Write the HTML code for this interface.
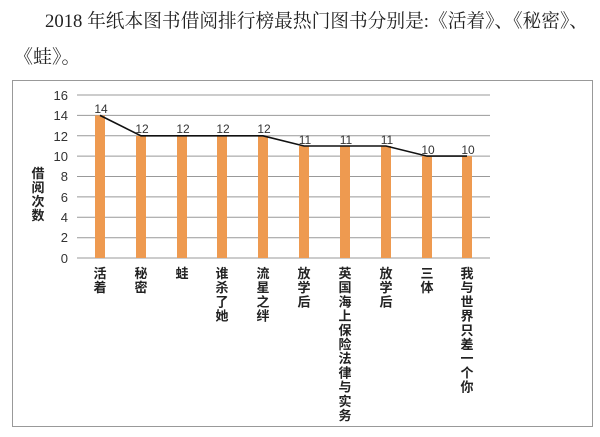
<!DOCTYPE html>
<html><head><meta charset="utf-8"><style>
body{margin:0;background:#fff;width:600px;height:432px;overflow:hidden}
</style></head><body>
<svg width="600" height="432" xmlns="http://www.w3.org/2000/svg">
<text x="45" y="27" font-family="Liberation Serif, Noto Serif CJK SC, serif" font-size="19" fill="#222" textLength="543" lengthAdjust="spacingAndGlyphs">2018 年纸本图书借阅排行榜最热门图书分别是:《活着》、《秘密》、</text>
<text x="14" y="63" font-family="Liberation Serif, Noto Serif CJK SC, serif" font-size="19" fill="#222">《蛙》。</text>
<rect x="12.5" y="80.5" width="580" height="346" fill="#fff" stroke="#999" stroke-width="1"/>
<g stroke="#999" stroke-width="1">
<line x1="77" y1="95" x2="490" y2="95"/><line x1="77" y1="115.4" x2="490" y2="115.4"/>
<line x1="77" y1="135.8" x2="490" y2="135.8"/><line x1="77" y1="156.1" x2="490" y2="156.1"/>
<line x1="77" y1="176.5" x2="490" y2="176.5"/><line x1="77" y1="196.9" x2="490" y2="196.9"/>
<line x1="77" y1="217.3" x2="490" y2="217.3"/><line x1="77" y1="237.7" x2="490" y2="237.7"/>
<line x1="77" y1="258" x2="490" y2="258"/>
</g>
<g font-family="Liberation Sans, sans-serif" font-size="13" fill="#333" text-anchor="end">
<text x="68" y="100">16</text><text x="68" y="120">14</text><text x="68" y="141">12</text><text x="68" y="161">10</text>
<text x="68" y="181">8</text><text x="68" y="202">6</text><text x="68" y="222">4</text><text x="68" y="242">2</text><text x="68" y="263">0</text>
</g>
<g font-family="Liberation Sans, Noto Sans CJK SC, sans-serif" font-size="13" font-weight="bold" fill="#222" text-anchor="middle">
<text x="38" y="178">借</text><text x="38" y="192">阅</text><text x="38" y="206">次</text><text x="38" y="220">数</text>
</g>
<g fill="#EE9A50">
<rect x="95" y="115.4" width="10" height="142.6"/>
<rect x="136" y="135.8" width="10" height="122.2"/>
<rect x="177" y="135.8" width="10" height="122.2"/>
<rect x="217" y="135.8" width="10" height="122.2"/>
<rect x="258" y="135.8" width="10" height="122.2"/>
<rect x="299" y="146" width="10" height="112"/>
<rect x="340" y="146" width="10" height="112"/>
<rect x="381" y="146" width="10" height="112"/>
<rect x="422" y="156.1" width="10" height="101.9"/>
<rect x="462" y="156.1" width="10" height="101.9"/>
</g>
<polyline fill="none" stroke="#111" stroke-width="1.6" points="100,115.4 141,135.8 182,135.8 222,135.8 263,135.8 304,146 345,146 386,146 427,156.1 467,156.1"/>
<g font-family="Liberation Sans, sans-serif" font-size="12" fill="#333" text-anchor="middle">
<text x="101" y="113">14</text><text x="142" y="133">12</text><text x="183" y="133">12</text><text x="223" y="133">12</text><text x="264" y="133">12</text>
<text x="305" y="144">11</text><text x="346" y="144">11</text><text x="387" y="144">11</text><text x="428" y="154">10</text><text x="468" y="154">10</text>
</g>
<g font-family="Liberation Sans, Noto Sans CJK SC, sans-serif" font-size="13" font-weight="bold" fill="#222" text-anchor="middle">
<text x="100" y="278">活</text><text x="100" y="292.2">着</text>
<text x="141" y="278">秘</text><text x="141" y="292.2">密</text>
<text x="182" y="278">蛙</text>
<text x="222" y="278">谁</text><text x="222" y="292.2">杀</text><text x="222" y="306.4">了</text><text x="222" y="320.6">她</text>
<text x="263" y="278">流</text><text x="263" y="292.2">星</text><text x="263" y="306.4">之</text><text x="263" y="320.6">绊</text>
<text x="304" y="278">放</text><text x="304" y="292.2">学</text><text x="304" y="306.4">后</text>
<text x="345" y="278">英</text><text x="345" y="292.2">国</text><text x="345" y="306.4">海</text><text x="345" y="320.6">上</text><text x="345" y="334.8">保</text><text x="345" y="349">险</text><text x="345" y="363.2">法</text><text x="345" y="377.4">律</text><text x="345" y="391.6">与</text><text x="345" y="405.8">实</text><text x="345" y="420">务</text>
<text x="386" y="278">放</text><text x="386" y="292.2">学</text><text x="386" y="306.4">后</text>
<text x="427" y="278">三</text><text x="427" y="292.2">体</text>
<text x="467" y="278">我</text><text x="467" y="292.2">与</text><text x="467" y="306.4">世</text><text x="467" y="320.6">界</text><text x="467" y="334.8">只</text><text x="467" y="349">差</text><text x="467" y="363.2">一</text><text x="467" y="377.4">个</text><text x="467" y="391.6">你</text>
</g>
</svg>
</body></html>
